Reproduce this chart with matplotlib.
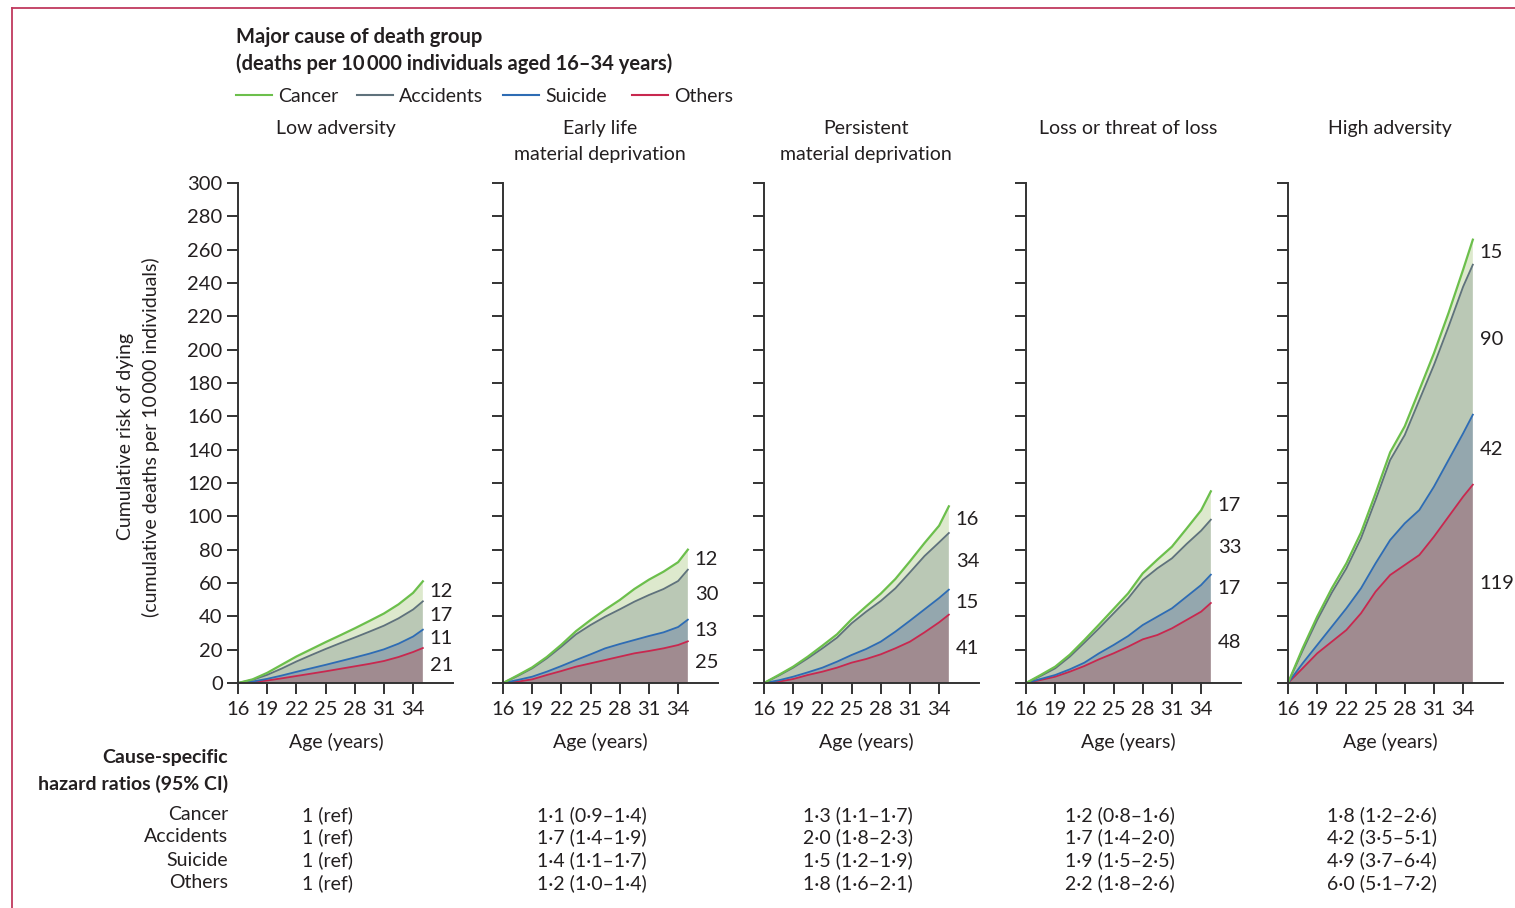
import numpy as np
import matplotlib.pyplot as plt
from matplotlib.lines import Line2D

plt.rcParams['font.family'] = ['Lato', 'DejaVu Sans']

W, H = 1515, 908

# ages at which the cumulative curves are read
ages = [16, 17.5, 19, 20.5, 22, 23.5, 25, 26.5, 28, 29.5, 31, 32.5, 34, 35]

panel_titles = ['Low adversity', 'Early life\nmaterial deprivation',
                'Persistent\nmaterial deprivation', 'Loss or threat of loss',
                'High adversity']

# cumulative deaths per 10 000 by cause (one list per adversity group)
others = [
    [0, 0.5, 1.5, 2.8, 4.2, 5.6, 7.0, 8.5, 10.0, 11.5, 13.2, 15.6, 18.6, 21],
    [0, 0.8, 2.2, 4.8, 7.2, 9.8, 11.8, 13.8, 15.8, 17.8, 19.2, 20.8, 22.8, 25],
    [0, 0.8, 2.4, 4.8, 6.8, 9.2, 12.2, 14.4, 17.2, 20.8, 24.8, 30.4, 36.4, 41],
    [0, 1.8, 3.8, 6.8, 10.2, 14.2, 17.8, 21.8, 26.2, 28.8, 32.8, 37.8, 42.8, 48],
    [0, 8.8, 17.8, 24.8, 31.8, 41.8, 54.8, 64.8, 70.8, 76.8, 87.8, 99.8, 111.8, 119],
]
suicide = [
    [0, 0.4, 1.0, 1.7, 2.5, 3.2, 3.9, 4.6, 5.3, 6.1, 7.0, 8.0, 9.3, 11],
    [0, 1.0, 1.6, 2.0, 3.0, 4.0, 5.4, 7.0, 7.6, 8.0, 9.0, 9.6, 10.8, 13],
    [0, 0.8, 1.4, 1.6, 2.4, 3.6, 4.6, 6.0, 7.6, 10.0, 12.6, 13.8, 14.6, 15],
    [0, 0.6, 1.0, 1.4, 2.0, 3.6, 5.0, 6.4, 8.6, 11.0, 12.0, 14.0, 16.0, 17],
    [0, 3.0, 5.0, 9.0, 13.0, 15.0, 17.0, 21.0, 25.0, 27.0, 30.0, 34.0, 38.0, 42],
]
accidents = [
    [0, 1.0, 2.4, 4.2, 6.2, 7.9, 9.5, 10.8, 12.0, 13.2, 14.2, 15.2, 16.2, 17],
    [0, 2.4, 5.0, 8.0, 11.6, 15.4, 17.6, 19.0, 20.8, 23.0, 24.6, 26.0, 27.6, 30],
    [0, 2.8, 5.4, 8.4, 11.6, 14.4, 19.0, 22.4, 24.4, 26.0, 29.0, 32.0, 33.4, 34],
    [0, 1.8, 4.0, 7.6, 12.0, 15.0, 19.0, 22.6, 27.0, 29.0, 30.0, 31.6, 32.6, 33],
    [0, 7.6, 15.0, 20.4, 24.0, 30.0, 38.0, 48.0, 53.0, 66.0, 73.0, 80.0, 88.0, 90],
]
cancer = [
    [0, 0.3, 1.2, 2.3, 3.0, 3.5, 4.1, 4.7, 5.5, 6.4, 7.3, 8.4, 10.0, 12],
    [0, 0.4, 0.6, 0.8, 1.2, 1.9, 3.0, 4.2, 5.6, 7.6, 9.2, 10.4, 11.3, 12],
    [0, 0.4, 0.6, 1.0, 1.6, 2.0, 2.4, 3.2, 4.4, 5.6, 6.6, 7.8, 10.0, 16],
    [0, 0.6, 1.0, 1.2, 1.6, 2.2, 2.6, 3.0, 4.0, 5.2, 7.0, 9.2, 12.2, 17],
    [0, 1.4, 2.0, 2.6, 3.0, 3.4, 4.0, 4.6, 5.2, 6.0, 7.0, 8.2, 10.2, 15],
]

# cause-specific hazard ratios (95% CI)
hr_cancer = ['1 (ref)', '1\u00b71 (0\u00b79\u20131\u00b74)', '1\u00b73 (1\u00b71\u20131\u00b77)',
             '1\u00b72 (0\u00b78\u20131\u00b76)', '1\u00b78 (1\u00b72\u20132\u00b76)']
hr_accidents = ['1 (ref)', '1\u00b77 (1\u00b74\u20131\u00b79)', '2\u00b70 (1\u00b78\u20132\u00b73)',
                '1\u00b77 (1\u00b74\u20132\u00b70)', '4\u00b72 (3\u00b75\u20135\u00b71)']
hr_suicide = ['1 (ref)', '1\u00b74 (1\u00b71\u20131\u00b77)', '1\u00b75 (1\u00b72\u20131\u00b79)',
              '1\u00b79 (1\u00b75\u20132\u00b75)', '4\u00b79 (3\u00b77\u20136\u00b74)']
hr_others = ['1 (ref)', '1\u00b72 (1\u00b70\u20131\u00b74)', '1\u00b78 (1\u00b76\u20132\u00b71)',
             '2\u00b72 (1\u00b78\u20132\u00b76)', '6\u00b70 (5\u00b71\u20137\u00b72)']

cause_names = ['Cancer', 'Accidents', 'Suicide', 'Others']
line_colors = {'Cancer': '#6cbf4c', 'Accidents': '#5f727c',
               'Suicide': '#2e6cb4', 'Others': '#c8284f'}
fill_colors = {'Cancer': '#dde9cd', 'Accidents': '#bac8b5',
               'Suicide': '#94a7ae', 'Others': '#a08b90'}
txt = '#231f20'


def fx(x):
    return x / W


def fy(y):
    return 1 - y / H


fig = plt.figure(figsize=(W / 100, H / 100), dpi=100)

# frame lines at top and left
fig.add_artist(Line2D([fx(12), fx(12)], [0, fy(8)], color='#c0395e', lw=1.3))
fig.add_artist(Line2D([fx(12), 1], [fy(8), fy(8)], color='#c0395e', lw=1.3))

# heading and legend
fig.text(fx(236), fy(37), 'Major cause of death group', fontsize=14.5,
         fontweight='bold', color=txt, va='center')
fig.text(fx(236), fy(64), '(deaths per 10\u2009000 individuals aged 16\u201334 years)',
         fontsize=14.5, fontweight='bold', color=txt, va='center')
leg_x = [236, 357, 503, 632]
for name, x0 in zip(cause_names, leg_x):
    fig.add_artist(Line2D([fx(x0), fx(x0 + 36)], [fy(95), fy(95)],
                          color=line_colors[name], lw=1.5))
    fig.text(fx(x0 + 42), fy(96), name, fontsize=14, color=txt, va='center')

lefts = [238, 503, 764, 1026, 1288]
title_off = [98, 97, 102, 102, 102]

for i, left in enumerate(lefts):
    ax = fig.add_axes([fx(left), fy(683), 215 / W, 500 / H])
    x = np.array(ages)
    stack = [others[i], suicide[i], accidents[i], cancer[i]]
    names = ['Others', 'Suicide', 'Accidents', 'Cancer']
    ax.stackplot(x, *stack, colors=[fill_colors[n] for n in names], lw=0)
    cum = np.cumsum(np.array(stack), axis=0)
    for n, c in zip(names, cum):
        ax.plot(x, c, color=line_colors[n], lw=1.6 if n == 'Cancer' else 1.3,
                solid_joinstyle='round')

    # band sizes written beside the end of each curve
    prev = 0
    for c in cum:
        top = c[-1]
        ax.text(35.7, (prev + top) / 2, '%g' % (top - prev), fontsize=14.5,
                color=txt, va='center', ha='left')
        prev = top

    ax.set_xlim(16, 38.1)
    ax.set_ylim(0, 300)
    ax.set_xticks(range(16, 35, 3))
    ax.set_yticks(range(0, 301, 20))
    for s in ['top', 'right']:
        ax.spines[s].set_visible(False)
    for s in ['left', 'bottom']:
        ax.spines[s].set_color('#333333')
        ax.spines[s].set_linewidth(1.4)
    ax.tick_params(direction='out', length=8, width=1.4, color='#333333',
                   labelsize=14.5, labelcolor=txt)
    ax.tick_params(axis='x', pad=5)
    ax.tick_params(axis='y', pad=3)
    ax.set_facecolor('none')
    if i > 0:
        ax.set_yticklabels([])
    ax.text(title_off[i] / 215, -59 / 500, 'Age (years)', transform=ax.transAxes,
            fontsize=14, color=txt, ha='center', va='center')
    fig.text(fx(left + title_off[i]), fy(120), panel_titles[i], fontsize=14,
             color=txt, ha='center', va='top', linespacing=1.62)

    for row, vals in zip([815, 837, 860, 883],
                         [hr_cancer, hr_accidents, hr_suicide, hr_others]):
        fig.text(fx(left + title_off[i] - 8), fy(row), vals[i], fontsize=14,
                 color=txt, ha='center', va='center')

fig.text(fx(125), fy(437), 'Cumulative risk of dying', rotation=90,
         fontsize=14, color=txt, ha='center', va='center')
fig.text(fx(151), fy(437), '(cumulative deaths per 10\u2009000 individuals)',
         rotation=90, fontsize=14, color=txt, ha='center', va='center')

# hazard ratio table labels
fig.text(fx(228), fy(757), 'Cause-specific', fontsize=14, fontweight='bold',
         color=txt, ha='right', va='center')
fig.text(fx(228), fy(784), 'hazard ratios (95% CI)', fontsize=14,
         fontweight='bold', color=txt, ha='right', va='center')
for row, name in zip([815, 837, 860, 883], cause_names):
    fig.text(fx(228), fy(row), name, fontsize=14, color=txt, ha='right',
             va='center')

fig.savefig('out.png', dpi=100)
